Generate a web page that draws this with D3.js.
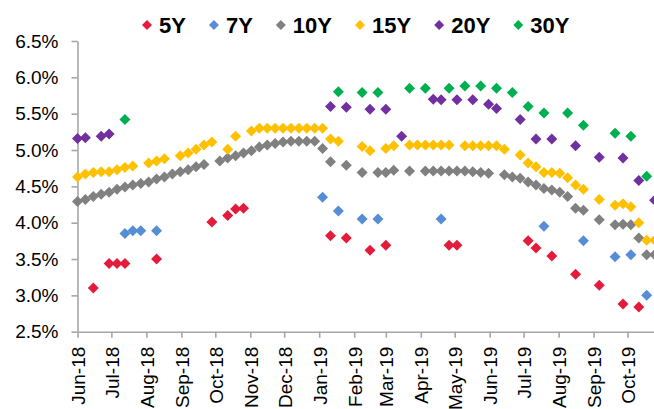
<!DOCTYPE html>
<html>
<head>
<meta charset="utf-8">
<script src="https://cdn.jsdelivr.net/npm/d3@7"></script>
<style>
  html, body { margin: 0; padding: 0; background: #fff; }
  svg { display: block; font-family: "Liberation Sans", Arial, sans-serif; }
</style>
</head>
<body>
<svg id="chart" width="654" height="409"></svg>
<script>
// Weekly observation dates
const weeks = [
  "2018-06-01","2018-06-08","2018-06-15","2018-06-22","2018-06-29","2018-07-06","2018-07-13","2018-07-20",
  "2018-07-27","2018-08-03","2018-08-10","2018-08-17","2018-08-24","2018-08-31","2018-09-07","2018-09-14",
  "2018-09-21","2018-09-28","2018-10-05","2018-10-12","2018-10-19","2018-10-26","2018-11-02","2018-11-09",
  "2018-11-16","2018-11-23","2018-11-30","2018-12-07","2018-12-14","2018-12-21","2018-12-28","2019-01-04",
  "2019-01-11","2019-01-18","2019-01-25","2019-02-01","2019-02-08","2019-02-15","2019-02-22","2019-03-01",
  "2019-03-08","2019-03-15","2019-03-22","2019-03-29","2019-04-05","2019-04-12","2019-04-19","2019-04-26",
  "2019-05-03","2019-05-10","2019-05-17","2019-05-24","2019-05-31","2019-06-07","2019-06-14","2019-06-21",
  "2019-06-28","2019-07-05","2019-07-12","2019-07-19","2019-07-26","2019-08-02","2019-08-09","2019-08-16",
  "2019-08-23","2019-08-30","2019-09-06","2019-09-13","2019-09-20","2019-09-27","2019-10-04","2019-10-11",
  "2019-10-18","2019-10-25"
];

// Yields (%) per tenor, null where no quote that week
const y5 = [
  null,null,3.10,null,3.44,3.44,3.44,null, null,null,3.50,null,null,null,null,null,
  null,4.01,null,4.10,4.19,4.20,null,null, null,null,null,null,null,null,null,null,
  3.82,null,3.79,null,null,3.62,null,3.69, null,null,null,null,null,null,null,3.69,
  3.69,null,null,null,null,null,null,null, null,3.75,3.65,null,3.54,null,null,3.29,
  null,null,3.14,null,null,2.88,null,2.84, null,null
];
const y7 = [
  null,null,null,null,null,null,3.85,3.89, 3.89,null,3.89,null,null,null,null,null,
  null,null,null,null,null,null,null,null, null,null,null,null,null,null,null,4.35,
  null,4.16,null,null,4.05,null,4.05,null, null,null,null,null,null,null,4.05,null,
  null,null,null,null,null,null,null,null, null,null,null,3.95,null,null,null,null,
  3.75,null,null,null,3.53,null,3.56,null, 3.00,null
];
const y10 = [
  4.29,4.32,4.36,4.39,4.42,4.46,4.49,4.52, 4.54,4.56,4.60,4.63,4.67,4.70,4.73,4.77,
  4.80,null,4.85,4.89,4.92,4.96,4.99,5.04, 5.07,5.09,5.11,5.12,5.12,5.12,5.12,5.02,
  4.84,null,4.79,null,4.69,null,4.69,4.69, 4.72,null,4.71,null,4.71,4.71,4.71,4.71,
  4.71,4.71,4.70,4.69,4.68,null,4.66,4.63, 4.61,4.56,4.52,4.47,4.45,4.42,4.36,4.20,
  4.17,null,4.04,null,3.97,3.98,3.97,3.79, 3.56,3.56
];
const y15 = [
  4.63,4.67,4.69,4.70,4.70,4.73,4.76,4.78, null,4.82,4.85,4.88,null,4.92,4.96,5.01,
  5.07,5.11,null,5.01,5.19,null,5.26,5.30, 5.30,5.30,5.30,5.30,5.30,5.30,5.30,5.30,
  5.15,5.12,null,null,5.05,4.99,null,5.02, 5.06,null,5.07,5.07,5.07,5.07,5.07,5.07,
  null,5.06,5.06,5.06,5.06,5.06,5.01,null, 4.93,4.82,4.77,4.69,4.69,4.68,4.62,4.52,
  4.46,null,4.32,null,4.24,4.26,4.22,4.00, 3.76,3.76
];
const y20 = [
  5.16,5.17,null,5.19,5.22,null,null,null, null,null,null,null,null,null,null,null,
  null,null,null,null,null,null,null,null, null,null,null,null,null,null,null,null,
  5.60,null,5.59,null,null,5.56,null,5.56, null,5.19,null,null,null,5.70,5.69,null,
  5.69,null,5.69,null,5.63,5.57,null,null, 5.42,null,5.15,null,5.15,null,null,5.06,
  null,null,4.90,null,null,4.89,null,4.58, null,4.31
];
const y30 = [
  null,null,null,null,null,null,5.42,null, null,null,null,null,null,null,null,null,
  null,null,null,null,null,null,null,null, null,null,null,null,null,null,null,null,
  null,5.80,null,null,5.79,null,5.79,null, null,null,5.85,null,5.85,null,null,5.85,
  null,5.88,null,5.88,null,5.85,null,5.79, null,5.60,null,5.51,null,null,5.51,null,
  5.34,null,null,null,5.23,null,5.19,null, 4.64,null
];

const seriesNames = ["5Y", "7Y", "10Y", "15Y", "20Y", "30Y"];
const seriesValues = [y5, y7, y10, y15, y20, y30];
const seriesColors = ["#E41B3B", "#558ED5", "#808080", "#FFC000", "#7030A0", "#00B050"];

const yTicks = [2.5, 3.0, 3.5, 4.0, 4.5, 5.0, 5.5, 6.0, 6.5];

const svg = d3.select("#chart");
const W = 654, H = 409;
const plotLeft = 77.5, plotTop = 41, plotBottom = 331.7;

const parse = d3.utcParse("%Y-%m-%d");
const dates = weeks.map(parse);

// Time scale: month starts on the axis are spaced by their true day counts
const x0 = Date.UTC(2018, 5, 1), x1 = Date.UTC(2019, 9, 1);
const xBase = d3.scaleUtc().domain([new Date(x0), new Date(x1)]).range([plotLeft, 627.5]);
const xEnd = xBase.invert(W + 2);
const x = d3.scaleUtc().domain([new Date(x0), xEnd]).range([plotLeft, W + 2]);

const y = d3.scaleLinear().domain([2.5, 6.5]).range([plotBottom, plotTop]);

const axisColor = "#A6A6A6";

// Y axis
const gy = svg.append("g")
  .attr("transform", `translate(${plotLeft},0)`)
  .call(d3.axisLeft(y).tickValues(yTicks).tickSize(6).tickSizeOuter(0).tickPadding(13)
    .tickFormat(d => d.toFixed(1) + "%"));
gy.select(".domain").attr("stroke", axisColor).attr("stroke-width", 1.6);
gy.selectAll(".tick line").attr("stroke", axisColor).attr("stroke-width", 1.6);
gy.selectAll(".tick text")
  .attr("font-size", 19).attr("fill", "#000")
  .attr("font-family", "'Liberation Sans', Arial, sans-serif");

// X axis
const gx = svg.append("g")
  .attr("transform", `translate(0,${plotBottom})`)
  .call(d3.axisBottom(x).ticks(d3.utcMonth.every(1)).tickSize(6).tickSizeOuter(0)
    .tickFormat(d3.utcFormat("%b-%y")));
gx.select(".domain").attr("stroke", axisColor).attr("stroke-width", 1.6);
gx.selectAll(".tick line").attr("stroke", axisColor).attr("stroke-width", 1.6);
gx.selectAll(".tick text")
  .attr("font-size", 19).attr("fill", "#000")
  .attr("font-family", "'Liberation Sans', Arial, sans-serif")
  .attr("transform", "rotate(-90)")
  .attr("text-anchor", "end")
  .attr("x", -15)
  .attr("y", 0)
  .attr("dy", "0.36em");

// Diamond markers
const half = 5.5;
const diamond = `M0,${-half}L${half},0L0,${half}L${-half},0Z`;

const marks = svg.append("g");
seriesValues.forEach((vals, i) => {
  const pts = vals.map((v, j) => ({ date: dates[j], value: v })).filter(d => d.value != null);
  marks.append("g")
    .selectAll("path")
    .data(pts)
    .join("path")
    .attr("d", diamond)
    .attr("transform", d => `translate(${x(d.date)},${y(d.value)})`)
    .attr("fill", seriesColors[i]);
});

// Legend
const legend = svg.append("g");
let lx = 147;
seriesNames.forEach((name, i) => {
  const item = legend.append("g");
  item.append("path").attr("d", `M0,-5L5,0L0,5L-5,0Z`)
    .attr("transform", `translate(${lx},25)`).attr("fill", seriesColors[i]);
  const t = item.append("text")
    .attr("x", lx + 12).attr("y", 33)
    .attr("font-size", 22).attr("font-weight", "bold").attr("fill", "#000")
    .text(name);
  lx += 12 + t.node().getComputedTextLength() + 28;
});
</script>
</body>
</html>
